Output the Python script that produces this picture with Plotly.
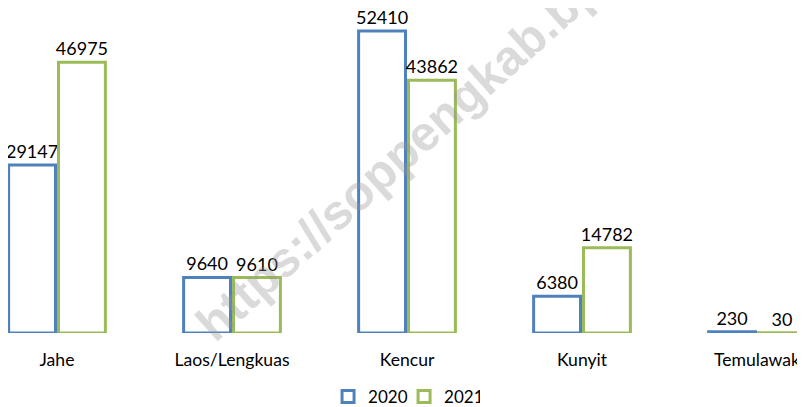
import plotly.graph_objects as go

categories = ["Jahe", "Laos/Lengkuas", "Kencur", "Kunyit", "Temulawak"]
values_2020 = [29147, 9640, 52410, 6380, 230]
values_2021 = [46975, 9610, 43862, 14782, 30]
series_names = ["2020", "2021"]

blue = "#4F81BD"
green = "#9BBB59"
font_family = "Lato, 'Open Sans', sans-serif"

fig = go.Figure()
for name, vals, col in [(series_names[0], values_2020, blue), (series_names[1], values_2021, green)]:
    fig.add_trace(go.Bar(
        x=categories, y=vals, name=name,
        marker=dict(color="white", line=dict(color=col, width=3)),
        text=[str(v) for v in vals], textposition="outside",
        textfont=dict(family=font_family, size=18, color="#000000"),
        cliponaxis=False, constraintext="none",
    ))

fig.update_layout(
    width=805, height=407,
    margin=dict(l=0, r=0, t=0, b=82),
    paper_bgcolor="white", plot_bgcolor="white",
    barmode="group", bargap=0.43, bargroupgap=0.06,
    font=dict(family=font_family, color="#000000"),
    showlegend=True,
    legend=dict(orientation="h", x=0.492, xanchor="center", y=-0.197, yanchor="middle",
                font=dict(family=font_family, size=17, color="#000000"),
                itemwidth=30, entrywidth=31, entrywidthmode="pixels",
                traceorder="normal", bgcolor="rgba(0,0,0,0)"),
    xaxis=dict(type="category", range=[-0.28, 4.32], showgrid=False, showline=False,
               zeroline=False, ticks="outside", ticklen=11, tickcolor="rgba(0,0,0,0)",
               automargin=False,
               tickfont=dict(family=font_family, size=17.6, color="#000000")),
    yaxis=dict(range=[0, 56400], visible=False, showgrid=False, zeroline=False, automargin=False),
    annotations=[dict(
        text="<b>https://soppengkab.bps.go.id</b>", xref="paper", yref="paper",
        x=0.559, y=0.7108, xanchor="center", yanchor="middle",
        textangle=-42, showarrow=False,
        font=dict(family="'Liberation Sans', Arial, sans-serif", size=49, color="rgba(150,150,150,0.35)"),
    )],
)

fig.write_html("out.html")
